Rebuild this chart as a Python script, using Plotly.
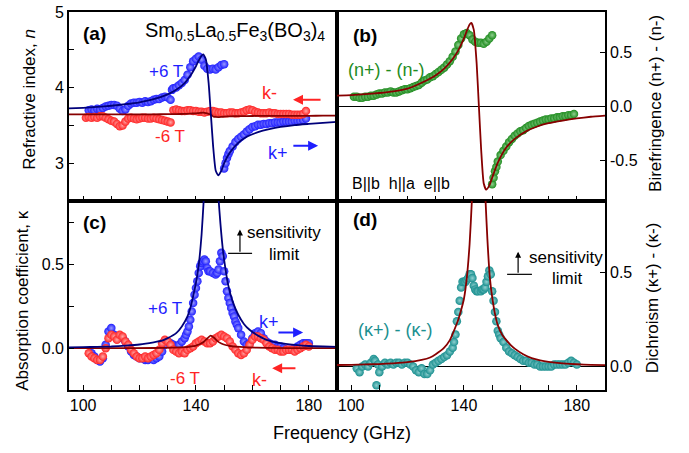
import plotly.graph_objects as go

# ---------------- data ----------------
# panel (a): refractive index
a_up_f = [102,103,104,105,106,107,108,109,110,111,112,113,114,115,116,117,118,119,120,121,122,123,124,125,126,127,128,129,130,131,131.5,132,133,134,135,136,137,138,139,140,141,142,143,144,145,146,147,148,149,150]
a_up_n = [3.70,3.71,3.70,3.72,3.71,3.73,3.75,3.76,3.77,3.77,3.76,3.72,3.69,3.71,3.76,3.79,3.80,3.80,3.81,3.80,3.82,3.81,3.82,3.84,3.85,3.85,3.87,3.88,3.87,3.84,3.97,3.99,4.00,4.03,4.06,4.10,4.17,4.27,4.35,4.38,4.41,4.37,4.29,4.25,4.24,4.25,4.24,4.27,4.30,4.31]
a_lo_f = [150,150.5,151,151.5,152,153,154,155,156,157,158,159,160,161,162,163,164,165,166,167,168,169,170,171,172,173,174,175,176,177,178,179]
a_lo_n = [2.93,3.00,3.07,3.12,3.16,3.22,3.28,3.32,3.35,3.38,3.42,3.45,3.48,3.49,3.51,3.51,3.52,3.52,3.53,3.53,3.54,3.54,3.54,3.55,3.55,3.55,3.55,3.56,3.56,3.56,3.57,3.59]
a_red_f = [101,102,103,104,105,106,107,108,109,110,111,112,113,114,115,116,117,118,119,120,121,122,123,124,125,126,127,128,129,130,131,132,133,134,135,136,137,138,139,140,141,142,143,144,145,146,147,148,149,150,151,152,153,154,155,156,157,158,159,160,161,162,163,164,165,166,167,168,169,170,171,172,173,174,175,176,177,178,179]
a_red_n = [3.60,3.61,3.60,3.61,3.60,3.62,3.62,3.60,3.58,3.56,3.55,3.52,3.49,3.50,3.55,3.59,3.60,3.59,3.58,3.59,3.60,3.60,3.59,3.59,3.60,3.59,3.58,3.57,3.56,3.55,3.54,3.70,3.71,3.70,3.69,3.69,3.70,3.70,3.69,3.69,3.68,3.68,3.67,3.68,3.69,3.69,3.68,3.67,3.67,3.66,3.66,3.67,3.67,3.66,3.66,3.67,3.68,3.70,3.71,3.70,3.68,3.67,3.66,3.66,3.66,3.67,3.66,3.66,3.65,3.65,3.65,3.65,3.65,3.64,3.64,3.64,3.64,3.65,3.69]
fit_f = [95,100,105,110,115,120,125,130,133,136,138,140,141,142,142.6,143.5,144.5,145.3,146.1,147,147.9,149,150,152,155,158,162,166,170,175,180,185,190]
a_fit_plus = [3.724,3.733,3.745,3.76,3.78,3.806,3.846,3.91,3.97,4.06,4.156,4.283,4.358,4.424,4.44,4.376,4.06,3.64,3.22,2.904,2.84,2.9,3.0,3.14,3.27,3.35,3.41,3.45,3.48,3.505,3.52,3.534,3.546]
a_fit_minus = [3.645,3.645,3.645,3.645,3.645,3.646,3.647,3.648,3.65,3.652,3.655,3.66,3.663,3.667,3.668,3.663,3.652,3.64,3.62,3.612,3.61,3.613,3.616,3.62,3.622,3.624,3.625,3.626,3.626,3.627,3.627,3.628,3.628]

# panel (b): birefringence
b_up_f = [101,102,103,104,105,106,107,108,109,110,111,112,113,114,115,116,117,118,119,120,121,122,123,124,125,126,127,128,129,130,131,132,133,134,135,136,137,138,139,140,141,142,143,144,145,146,147,148,149,150]
b_up_v = [0.09,0.09,0.08,0.08,0.09,0.09,0.10,0.10,0.11,0.12,0.12,0.13,0.13,0.14,0.13,0.13,0.14,0.15,0.16,0.16,0.17,0.18,0.19,0.20,0.22,0.24,0.25,0.27,0.28,0.30,0.32,0.34,0.36,0.39,0.42,0.46,0.51,0.57,0.63,0.67,0.68,0.66,0.62,0.60,0.59,0.59,0.58,0.60,0.63,0.66]
b_lo_f = [150,150.5,151,151.5,152,153,154,155,156,157,158,159,160,161,162,163,164,165,166,167,168,169,170,171,172,173,174,175,176,177,178,179]
b_lo_v = [-0.72,-0.66,-0.60,-0.56,-0.51,-0.45,-0.41,-0.37,-0.33,-0.30,-0.27,-0.25,-0.23,-0.22,-0.20,-0.18,-0.17,-0.16,-0.15,-0.14,-0.13,-0.12,-0.12,-0.11,-0.11,-0.10,-0.10,-0.09,-0.09,-0.08,-0.08,-0.07]
b_fit = [0.10,0.105,0.115,0.125,0.14,0.165,0.22,0.29,0.35,0.44,0.52,0.63,0.70,0.76,0.775,0.71,0.40,0.0,-0.40,-0.71,-0.77,-0.73,-0.66,-0.52,-0.38,-0.30,-0.23,-0.185,-0.155,-0.13,-0.11,-0.095,-0.085]

# panel (c): absorption coefficient
c_blue_f = [103,104,105,106,107,108,109,110,111,112,113,114,115,116,117,118,119,120,121,122,123,124,125,126,127,128,129,130,131,132,133,134,135,136,136.5,137,137.5,138,138.5,139,139.5,140,140.5,141,141.5,142,142.5,143,143.5,144,144.5,145,146,147,147.5,148,148.5,149,149.5,150,150.5,151,151.5,152,152.5,153,153.5,154,154.5,155,156,157,158,159,160,161,162,163,164,165,166,167,168,169,170,171,172,173,174,175,176,177,178,179,180]
c_blue_k = [-0.03,-0.05,-0.07,-0.08,-0.06,0.02,0.10,0.12,0.08,0.06,0.07,0.06,0.04,0.01,-0.02,-0.04,-0.05,-0.06,-0.06,-0.07,-0.07,-0.06,-0.07,-0.06,-0.05,-0.02,0.02,0.04,0.03,0.02,0.01,0.02,0.04,0.06,0.08,0.10,0.13,0.17,0.22,0.27,0.32,0.36,0.40,0.45,0.49,0.51,0.52,0.53,0.52,0.48,0.46,0.46,0.45,0.44,0.45,0.47,0.52,0.57,0.55,0.46,0.40,0.34,0.30,0.27,0.24,0.21,0.19,0.16,0.14,0.12,0.08,0.04,0.02,0.03,0.06,0.09,0.10,0.09,0.06,0.04,0.03,0.02,0.02,0.01,0.01,0.00,-0.01,-0.01,-0.01,0.00,0.01,0.02,0.03,0.03,0.03]
c_red_f = [102,103,104,105,106,107,108,109,110,111,112,113,114,115,116,117,118,119,120,121,122,123,124,125,126,127,128,129,130,131,132,133,134,135,136,137,138,139,140,141,142,143,144,145,146,147,148,149,150,151,152,153,154,155,156,157,158,159,160,161,162,163,164,165,166,167,168,169,170,171,172,173,174,175,176,177,178,179,180]
c_red_k = [-0.03,-0.05,-0.06,-0.07,-0.07,-0.05,0.00,0.06,0.08,0.07,0.05,0.08,0.07,0.04,0.02,-0.01,-0.03,-0.05,-0.06,-0.06,-0.05,-0.06,-0.05,-0.04,-0.03,-0.01,0.03,0.05,0.04,0.02,-0.01,-0.02,-0.03,-0.02,-0.03,-0.01,0.00,0.01,0.03,0.04,0.05,0.04,0.03,0.03,0.04,0.06,0.07,0.08,0.07,0.06,0.04,0.01,-0.01,-0.03,-0.04,-0.03,-0.01,0.02,0.05,0.07,0.07,0.06,0.05,0.03,0.01,0.00,-0.01,-0.01,-0.02,-0.02,-0.01,-0.01,-0.01,-0.02,-0.01,0.00,0.01,0.02,0.01]
c_fit_f = [95,100,105,110,115,120,125,128,130,133,135,137,138,139,140,141,142,142.8,143.5,144.5,145.4,146.3,147.3,147.9,148.7,149.6,150.5,151.4,153,155,157,159,162,165,170,175,180,185,190]
c_fit_plus = [0.005,0.006,0.008,0.01,0.015,0.022,0.035,0.045,0.06,0.09,0.13,0.19,0.24,0.31,0.39,0.50,0.68,0.90,1.15,1.55,1.75,1.55,1.15,0.92,0.74,0.58,0.47,0.38,0.28,0.20,0.145,0.11,0.075,0.05,0.03,0.02,0.013,0.01,0.008]
c_fitm_f = [95,110,125,132,136,138,140,141.5,142.8,144,145.2,146.4,147.6,149,150.5,152,154,158,165,180,190]
c_fit_minus = [0.0,0.0,0.001,0.003,0.006,0.01,0.016,0.025,0.038,0.058,0.075,0.062,0.042,0.028,0.019,0.013,0.009,0.005,0.002,0.0,0.0]

# panel (d): dichroism
d_f = [102,103,104,105,106,107,108,108.5,109,109.5,110,111,112,113,114,115,116,117,118,119,120,121,122,123,124,125,126,127,128,129,130,131,132,133,134,135,136,136.5,137,137.5,138,138.5,139,139.5,140,140.5,141,141.5,142,142.5,143,143.5,144,144.5,145,146,146.5,147,147.5,148,148.5,149,149.5,150,150.5,151,151.5,152,152.5,153,154,155,156,157,158,159,160,161,162,163,164,165,166,167,168,169,170,171,172,173,174,175,176,177,178,179,180]
d_k = [-0.01,-0.03,0.00,0.01,0.00,0.02,0.04,0.03,-0.10,0.01,-0.03,0.00,0.02,0.01,0.02,0.01,0.02,0.02,0.01,0.02,0.02,0.01,0.00,-0.02,-0.03,-0.01,-0.04,-0.04,-0.02,0.01,0.02,0.03,0.04,0.05,0.06,0.08,0.10,0.13,0.17,0.24,0.29,0.35,0.42,0.45,0.45,0.45,0.46,0.47,0.49,0.49,0.47,0.43,0.41,0.40,0.40,0.40,0.41,0.41,0.42,0.45,0.48,0.51,0.49,0.40,0.35,0.29,0.24,0.19,0.17,0.15,0.13,0.10,0.08,0.07,0.06,0.05,0.04,0.03,0.03,0.02,0.02,0.01,0.01,0.00,0.00,0.00,0.00,0.00,0.01,0.01,0.01,0.01,0.01,0.02,0.03,0.02,0.01]
d_fit_f = [95,100,105,110,115,120,125,128,130,133,135,137,138,139,140,141,142,142.8,143.5,144.5,145.3,146.1,147.1,147.6,148.3,149.2,150,151,152,153.5,155,156.5,158,161,164,167,170,175,180,185,190]
d_fit = [0.008,0.009,0.011,0.013,0.017,0.023,0.035,0.048,0.065,0.10,0.14,0.21,0.25,0.30,0.36,0.47,0.65,0.88,1.15,1.55,1.75,1.55,1.1,0.9,0.68,0.47,0.37,0.28,0.22,0.17,0.14,0.115,0.095,0.065,0.045,0.033,0.025,0.017,0.012,0.009,0.007]

# ticks
x_tickvals = [100,110,120,130,140,150,160,170,180]
x_ticktext = ['100','','','','140','','','','180']
ya_tickvals = [3,3.5,4,4.5,5]
ya_ticktext = ['3','','4','','5']
yb_tickvals = [-0.5,0,0.5]
yb_ticktext = ['-0.5','0.0','0.5']
yc_tickvals = [-0.25,0,0.25,0.5,0.75]
yc_ticktext = ['','0.0','','0.5','']
yd_tickvals = [0,0.5]
yd_ticktext = ['0.0','0.5']

# ---------------- styling ----------------
FONT = "Liberation Sans, Arial, sans-serif"
BLUE = "#1f1fff"; BLUE_L = "#9a9aff"
RED = "#ff2424"; RED_L = "#ffa8a8"
GREEN = "#1f8c1f"; GREEN_L = "#8fd08f"
TEAL = "#1b9090"; TEAL_L = "#8fd0d0"
NAVY = "#00007a"; DRED = "#870000"

def pts(x, y, color, light, xa, ya):
    return go.Scatter(x=x, y=y, mode="markers", xaxis=xa, yaxis=ya, showlegend=False,
                      marker=dict(size=8.5, color=color, gradient=dict(type="radial", color=light),
                                  line=dict(width=0)))

def line(x, y, color, xa, ya):
    return go.Scatter(x=x, y=y, mode="lines", xaxis=xa, yaxis=ya, showlegend=False,
                      line=dict(color=color, width=1.8, shape="spline", smoothing=0.5))

fig = go.Figure()
# (a)
fig.add_trace(pts(a_up_f, a_up_n, BLUE, BLUE_L, "x", "y"))
fig.add_trace(pts(a_lo_f, a_lo_n, BLUE, BLUE_L, "x", "y"))
fig.add_trace(pts(a_red_f, a_red_n, RED, RED_L, "x", "y"))
fig.add_trace(line(fit_f, a_fit_minus, DRED, "x", "y"))
fig.add_trace(line(fit_f, a_fit_plus, NAVY, "x", "y"))
# (b)
fig.add_trace(pts(b_up_f, b_up_v, GREEN, GREEN_L, "x2", "y2"))
fig.add_trace(pts(b_lo_f, b_lo_v, GREEN, GREEN_L, "x2", "y2"))
fig.add_trace(line(fit_f, b_fit, DRED, "x2", "y2"))
# (c)
fig.add_trace(pts(c_blue_f, c_blue_k, BLUE, BLUE_L, "x3", "y3"))
fig.add_trace(pts(c_red_f, c_red_k, RED, RED_L, "x3", "y3"))
fig.add_trace(line(c_fitm_f, c_fit_minus, DRED, "x3", "y3"))
fig.add_trace(line(c_fit_f, c_fit_plus, NAVY, "x3", "y3"))
# (d)
fig.add_trace(pts(d_f, d_k, TEAL, TEAL_L, "x4", "y4"))
fig.add_trace(line(d_fit_f, d_fit, DRED, "x4", "y4"))

axis_common = dict(showline=True, linecolor="black", linewidth=1.6, mirror=True,
                   ticks="inside", ticklen=5, tickwidth=1.2, tickcolor="black",
                   showgrid=False, zeroline=False, automargin=False,
                   tickfont=dict(family=FONT, size=16, color="black"))

def xax(domain, anchor, labels):
    d = dict(axis_common); d.update(domain=domain, anchor=anchor, range=[95, 190],
                                    tickvals=x_tickvals, ticktext=x_ticktext, showticklabels=labels)
    return d

def yax(domain, anchor, rng, tv, tt, side="left", zero=False):
    d = dict(axis_common); d.update(domain=domain, anchor=anchor, range=rng, tickvals=tv,
                                    ticktext=tt, side=side, zeroline=zero, zerolinecolor="black",
                                    zerolinewidth=1.2)
    return d

fig.update_layout(
    width=689, height=453, margin=dict(l=69, r=84, t=12, b=63),
    plot_bgcolor="white", paper_bgcolor="white",
    font=dict(family=FONT, size=16, color="black"),
    xaxis=xax([0, 0.5], "y", False),
    yaxis=yax([0.5, 1], "x", [2.5, 5], ya_tickvals, ya_ticktext),
    xaxis2=xax([0.5, 1], "y2", False),
    yaxis2=yax([0.5, 1], "x2", [-0.875, 0.875], yb_tickvals, yb_ticktext, side="right", zero=True),
    xaxis3=xax([0, 0.5], "y3", True),
    yaxis3=yax([0, 0.5], "x3", [-0.25, 0.88], yc_tickvals, yc_ticktext),
    xaxis4=xax([0.5, 1], "y4", True),
    yaxis4=yax([0, 0.5], "x4", [-0.125, 0.88], yd_tickvals, yd_ticktext, side="right", zero=True),
)

ann = []
def txt(x, y, s, xr, yr, color="black", size=18, bold=False, xanchor="center"):
    ann.append(dict(x=x, y=y, xref=xr, yref=yr, text=("<b>%s</b>" % s) if bold else s,
                    showarrow=False, xanchor=xanchor, yanchor="middle",
                    font=dict(family=FONT, size=size, color=color)))

def arrow(x0, y0, x1, y1, xr, yr, color, width=2, size=1.0):
    ann.append(dict(x=x1, y=y1, ax=x0, ay=y0, xref=xr, yref=yr, axref=xr, ayref=yr, text="",
                    showarrow=True, arrowhead=2, arrowsize=size, arrowwidth=width, arrowcolor=color))

# (a)
txt(104.2, 4.72, "(a)", "x", "y", size=19, bold=True)
txt(121.2, 4.74, "Sm<sub>0.5</sub>La<sub>0.5</sub>Fe<sub>3</sub>(BO<sub>3</sub>)<sub>4</sub>", "x", "y", size=20, xanchor="left")
txt(129.4, 4.21, "+6 T", "x", "y", BLUE, 17)
txt(166.2, 3.93, "k-", "x", "y", RED, 18)
arrow(184.7, 3.84, 174.4, 3.84, "x", "y", RED)
txt(130.8, 3.35, "-6 T", "x", "y", RED, 17)
txt(169.1, 3.13, "k+", "x", "y", BLUE, 18)
arrow(174.0, 3.23, 183.3, 3.23, "x", "y", BLUE)
# (b)
txt(104.9, 0.66, "(b)", "x2", "y2", size=19, bold=True)
txt(112.4, 0.34, "(n+) - (n-)", "x2", "y2", GREEN, 18)
txt(117.7, -0.71, "B||b  h||a  e||b", "x2", "y2", "black", 16)
# (c)
txt(104.2, 0.75, "(c)", "x3", "y3", size=19, bold=True)
txt(171.2, 0.69, "sensitivity", "x3", "y3", "black", 17)
txt(171.2, 0.56, "limit", "x3", "y3", "black", 17)
arrow(155.6, 0.567, 155.6, 0.71, "x3", "y3", "black", width=1.2, size=1.0)
txt(129.0, 0.24, "+6 T", "x3", "y3", BLUE, 17)
txt(165.9, 0.154, "k+", "x3", "y3", BLUE, 18)
arrow(168.7, 0.094, 178.0, 0.094, "x3", "y3", BLUE)
txt(136.1, -0.18, "-6 T", "x3", "y3", RED, 17)
txt(162.7, -0.19, "k-", "x3", "y3", RED, 18)
arrow(175.8, -0.12, 167.0, -0.12, "x3", "y3", RED)
# (d)
txt(104.9, 0.78, "(d)", "x4", "y4", size=19, bold=True)
txt(176.2, 0.58, "sensitivity", "x4", "y4", "black", 17)
txt(176.6, 0.47, "limit", "x4", "y4", "black", 17)
arrow(159.2, 0.49, 159.2, 0.61, "x4", "y4", "black", width=1.2, size=1.0)
txt(115.6, 0.195, "(κ+) - (κ-)", "x4", "y4", TEAL, 18)

# axis titles
def title(x, y, s, angle=-90, size=17):
    ann.append(dict(x=x, y=y, xref="paper", yref="paper", text=s, showarrow=False, textangle=angle,
                    xanchor="center", yanchor="middle", font=dict(family=FONT, size=size, color="black")))
title(-0.073, 0.770, "Refractive index, <i>n</i>")
title(-0.088, 0.238, "Absorption coefficient, κ")
title(1.093, 0.759, "Birefringence (n+) - (n-)")
title(1.088, 0.243, "Dichroism (κ+) - (κ-)")
title(0.509, -0.114, "Frequency (GHz)", angle=0, size=18)

fig.update_layout(annotations=ann)
fig.update_layout(shapes=[
    dict(type="line", xref="x3", yref="y3", x0=151.4, x1=159.9, y0=0.567, y1=0.567, line=dict(color="black", width=1.2)),
    dict(type="line", xref="x4", yref="y4", x0=155.3, x1=164.1, y0=0.49, y1=0.49, line=dict(color="black", width=1.2)),
])

fig.write_html("out.html", config={"displayModeBar": False},
               post_script="document.body.style.margin='0px';document.body.style.overflow='hidden';")
